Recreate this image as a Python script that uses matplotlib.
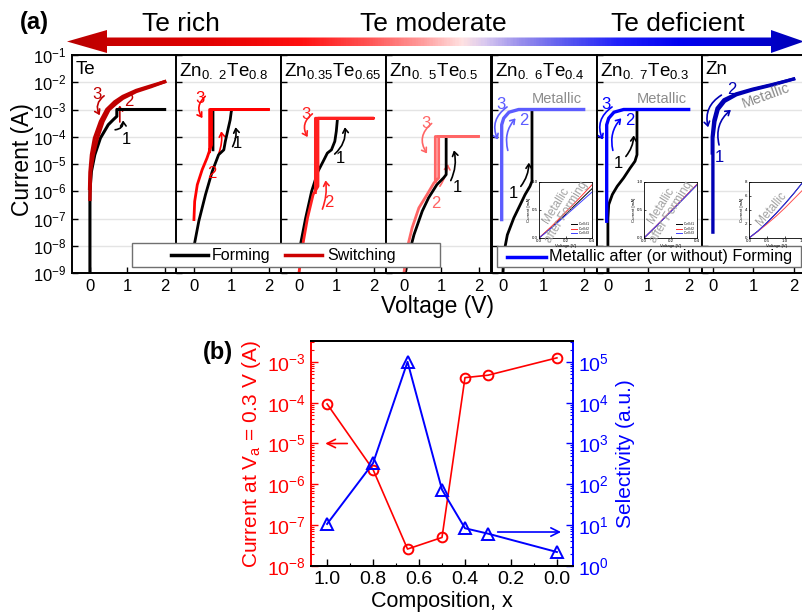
import numpy as np
import matplotlib
matplotlib.use("Agg")
import matplotlib.pyplot as plt
from matplotlib.colors import LinearSegmentedColormap
from matplotlib.patches import Polygon, Rectangle, FancyArrowPatch
from matplotlib.lines import Line2D
from matplotlib.ticker import (LogLocator, LogFormatterMathtext, NullLocator,
                               NullFormatter, MultipleLocator, FormatStrFormatter,
                               FixedLocator)

plt.rcParams['font.family'] = ['Liberation Sans', 'DejaVu Sans']
plt.rcParams['mathtext.default'] = 'regular'

# ---------------- (a) I-V sweeps: voltage (V), log10 of current (A) ----------------
te_form_v = [0.0, 0.0, 0.02, 0.04, 0.13, 0.28, 0.49, 0.62, 0.72, 0.72, 2.0]
te_form_logi = [-9.0, -6.0, -5.6, -5.27, -4.66, -4.05, -3.56, -3.38, -3.25, -3.0, -3.0]
te_set_v = [0.0, 0.02, 0.09, 0.2, 0.35, 0.51, 0.7, 0.88, 1.24, 1.64, 2.0]
te_set_logi = [-6.3, -5.27, -4.66, -4.05, -3.44, -3.01, -2.78, -2.59, -2.34, -2.16, -1.98]
te_reset_v = [2.0, 1.64, 1.24, 0.88, 0.66, 0.45, 0.28, 0.12, 0.04, 0.0, -0.01]
te_reset_logi = [-1.98, -2.13, -2.3, -2.52, -2.72, -3.0, -3.44, -4.05, -4.66, -5.3, -5.9]

z2_form_v = [0.02, 0.13, 0.31, 0.49, 0.66, 0.80, 0.84, 0.91, 0.97, 1.0, 1.02, 0.51, 0.51]
z2_form_logi = [-7.89, -7.1, -6.12, -5.27, -4.66, -4.48, -4.17, -3.74, -3.38, -3.07, -3.0, -3.0, -4.48]
z2_sw_v = [0.0, 0.02, 0.09, 0.22, 0.35, 0.47, 0.47, 2.0, 0.42, 0.42]
z2_sw_logi = [-7.04, -6.37, -5.76, -5.21, -4.78, -4.3, -3.0, -3.0, -3.0, -4.55]

z35_form_v = [0.05, 0.18, 0.34, 0.51, 0.65, 0.76, 0.87, 0.96, 1.0, 1.03]
z35_form_logi = [-7.89, -6.98, -6.0, -5.27, -4.9, -4.6, -4.48, -4.17, -3.8, -3.35]
z35_sw_v = [0.0, 0.12, 0.23, 0.38, 0.51, 0.51, 2.0, 0.44, 0.44]
z35_sw_logi = [-9.0, -7.83, -6.98, -6.12, -5.82, -3.32, -3.32, -3.32, -6.05]

z5_form_v = [0.04, 0.13, 0.27, 0.49, 0.66, 0.88, 1.06, 1.13, 1.13]
z5_form_logi = [-9.0, -8.32, -7.59, -6.73, -6.24, -5.76, -5.51, -5.39, -4.05]
z5_sw_v = [0.0, 0.09, 0.22, 0.40, 0.62, 0.80, 0.93, 0.93, 2.0, 0.84, 0.84]
z5_sw_logi = [-9.0, -8.07, -7.34, -6.61, -6.12, -5.7, -5.51, -3.99, -3.99, -3.99, -5.65]

z6_form_v = [0.0, 0.02, 0.11, 0.27, 0.43, 0.55, 0.67, 0.72, 0.72]
z6_form_logi = [-9.0, -8.3, -7.6, -6.98, -6.49, -6.12, -5.82, -5.63, -3.02]
z6_met_v = [-0.03, -0.03, 0.02, 0.15, 0.39, 2.0]
z6_met_logi = [-7.04, -3.56, -3.32, -3.1, -3.0, -3.0]

z7_form_v = [0.0, 0.0, 0.02, 0.11, 0.23, 0.39, 0.55, 0.67, 0.72, 0.72]
z7_form_logi = [-9.0, -7.0, -6.49, -6.12, -5.82, -5.51, -5.15, -4.9, -4.66, -3.02]
z7_met_v = [-0.03, -0.03, 0.02, 0.15, 0.39, 2.0]
z7_met_logi = [-7.1, -3.56, -3.32, -3.1, -3.0, -3.0]

zn_met_v = [0.0, 0.0, 0.05, 0.13, 0.29, 0.58, 0.98, 1.47, 2.0]
zn_met_logi = [-7.5, -4.05, -3.44, -3.0, -2.7, -2.46, -2.28, -2.1, -1.88]
zn_back_v = [2.0, 1.47, 0.98, 0.58, 0.27, 0.1, 0.02, -0.02, -0.02]
zn_back_logi = [-1.88, -2.08, -2.25, -2.42, -2.64, -2.95, -3.4, -4.0, -4.6]

# linear I-V insets (voltage in V, current in mA)
ins_v = [0.0, 0.1, 0.2, 0.3, 0.4]
z6_cell1 = [0.0, 0.2, 0.42, 0.65, 0.88]
z6_cell2 = [0.0, 0.22, 0.46, 0.70, 0.95]
z6_cell3 = [0.0, 0.19, 0.40, 0.61, 0.82]
z7_cell1 = [0.0, 0.23, 0.47, 0.71, 0.95]
z7_cell2 = [0.0, 0.235, 0.475, 0.715, 0.96]
z7_cell3 = [0.0, 0.23, 0.465, 0.705, 0.95]
zn_ins_v = [0.0, 0.25, 0.5, 0.75, 1.0, 1.25, 1.5]
zn_cell1 = [0.0, 1.0, 2.2, 3.5, 4.9, 6.4, 8.0]
zn_cell2 = [0.0, 0.95, 2.0, 3.1, 4.3, 5.6, 6.9]

# ---------------- (b) composition dependence ----------------
comp_x = [1.0, 0.8, 0.65, 0.5, 0.4, 0.3, 0.0]
current_03V = [9.3e-5, 2.3e-6, 2.6e-8, 5.0e-8, 4.1e-4, 4.7e-4, 1.25e-3]
selectivity = [10.7, 330, 1.0e5, 74, 8.4, 6.2, 2.2]

panel_titles = ["Te", r"Zn$_{0.\ 2}$Te$_{0.8}$", r"Zn$_{0.35}$Te$_{0.65}$",
                r"Zn$_{0.\ 5}$Te$_{0.5}$", r"Zn$_{0.\ 6}$Te$_{0.4}$",
                r"Zn$_{0.\ 7}$Te$_{0.3}$", "Zn"]

W, H = 802, 614
fig = plt.figure(figsize=(W / 100, H / 100), dpi=100)


def box(x0, y0, x1, y1):
    return [x0 / W, 1 - y1 / H, (x1 - x0) / W, (y1 - y0) / H]


C_TE, C_Z2, C_Z35, C_Z5 = '#c00000', '#ff0000', '#ff2020', '#ff6666'
C_Z6, C_Z7, C_ZN = '#5c5cff', '#0000ff', '#0000b4'
GREY = '#8c8c8c'

panels = [
    dict(xlim=(-0.48, 2.33),
         curves=[(te_form_v, te_form_logi, 'k', 2.2),
                 (te_reset_v, te_reset_logi, C_TE, 2.4),
                 (te_set_v, te_set_logi, C_TE, 2.4)],
         notes=[("3", 0.2, -2.45, C_TE), ("2", 1.04, -2.7, C_TE), ("1", 0.97, -4.1, 'k')],
         arrows=[((0.44, -2.44), (0.3, -3.3), C_TE, 0.5),
                 ((0.8, -3.56), (0.8, -2.75), C_TE, 0.0),
                 ((0.6, -3.75), (0.88, -3.3), 'k', 0.6)]),
    dict(xlim=(-0.48, 2.33),
         curves=[(z2_form_v, z2_form_logi, 'k', 2.0),
                 (z2_sw_v, z2_sw_logi, C_Z2, 2.0)],
         notes=[("3", 0.17, -2.6, C_Z2), ("2", 0.47, -5.35, C_Z2), ("1", 1.16, -4.25, 'k')],
         arrows=[((0.36, -2.45), (0.27, -3.4), C_Z2, 0.5),
                 ((0.64, -4.7), (0.72, -3.7), C_Z2, 0.15),
                 ((1.0, -4.45), (1.1, -3.55), 'k', 0.2)]),
    dict(xlim=(-0.48, 2.33),
         curves=[(z35_form_v, z35_form_logi, 'k', 2.0),
                 (z35_sw_v, z35_sw_logi, C_Z35, 2.0)],
         notes=[("3", 0.2, -3.2, C_Z35), ("2", 0.8, -6.43, C_Z35), ("1", 1.12, -4.8, 'k')],
         arrows=[((0.42, -3.1), (0.27, -4.1), C_Z35, 0.5),
                 ((0.6, -6.75), (0.7, -5.5), C_Z35, 0.15),
                 ((0.9, -4.7), (1.22, -3.55), 'k', 0.3)]),
    dict(xlim=(-0.48, 2.33),
         curves=[(z5_form_v, z5_form_logi, 'k', 2.0),
                 (z5_sw_v, z5_sw_logi, C_Z5, 2.0)],
         notes=[("3", 0.59, -3.5, C_Z5), ("2", 0.84, -6.45, C_Z5), ("1", 1.42, -5.85, 'k')],
         arrows=[((0.8, -3.45), (0.66, -4.7), C_Z5, 0.5),
                 ((0.92, -5.9), (1.18, -4.9), C_Z5, 0.15),
                 ((1.22, -5.7), (1.32, -4.4), 'k', 0.2)]),
    dict(xlim=(-0.27, 2.33),
         curves=[(z6_form_v, z6_form_logi, 'k', 2.0),
                 (z6_met_v, z6_met_logi, C_Z6, 2.4)],
         notes=[("3", -0.06, -2.83, C_Z6), ("2", 0.52, -3.4, C_Z6), ("1", 0.27, -6.1, 'k')],
         arrows=[((0.16, -2.85), (-0.1, -4.2), C_Z6, 0.45),
                 ((0.14, -4.6), (0.36, -3.25), C_Z6, -0.3),
                 ((0.4, -5.9), (0.64, -4.85), 'k', 0.2)]),
    dict(xlim=(-0.27, 2.33),
         curves=[(z7_form_v, z7_form_logi, 'k', 2.0),
                 (z7_met_v, z7_met_logi, C_Z7, 2.4)],
         notes=[("3", -0.06, -2.83, C_Z7), ("2", 0.55, -3.4, C_Z7), ("1", 0.27, -5.0, 'k')],
         arrows=[((0.16, -2.85), (-0.1, -4.2), C_Z7, 0.45),
                 ((0.14, -4.6), (0.38, -3.25), C_Z7, -0.3),
                 ((0.4, -4.8), (0.64, -3.85), 'k', 0.2)]),
    dict(xlim=(-0.27, 2.33),
         curves=[(zn_back_v, zn_back_logi, C_ZN, 2.2),
                 (zn_met_v, zn_met_logi, C_ZN, 2.4)],
         notes=[("2", 0.46, -2.28, C_ZN), ("1", 0.17, -4.75, C_ZN)],
         arrows=[((0.27, -2.42), (-0.1, -3.75), C_ZN, 0.4),
                 ((0.17, -4.4), (0.5, -2.95), C_ZN, -0.35)]),
]

panel_left = [72, 176, 281, 386, 492, 597, 702]
axes_a = []
for i, (left, p) in enumerate(zip(panel_left, panels)):
    ax = fig.add_axes(box(left, 55, left + 105, 273))
    axes_a.append(ax)
    ax.set_yscale('log')
    ax.set_ylim(1e-9, 1e-1)
    ax.set_xlim(*p['xlim'])
    ax.yaxis.set_major_locator(LogLocator(base=10, numticks=20))
    ax.yaxis.set_minor_locator(NullLocator())
    ax.xaxis.set_major_locator(FixedLocator([0, 1, 2]))
    ax.yaxis.grid(True, color='#e4e4e4', lw=1.0)
    ax.set_axisbelow(True)
    ax.tick_params(direction='in', length=4, width=1.0, labelsize=12, pad=4)
    for s in ax.spines.values():
        s.set_linewidth(1.4)
    if i == 0:
        ax.yaxis.set_major_formatter(LogFormatterMathtext())
    else:
        ax.yaxis.set_major_formatter(NullFormatter())
    for v, li, c, lw in p['curves']:
        ax.plot(v, 10.0 ** np.asarray(li), color=c, lw=lw, solid_joinstyle='round')
    for s, x, y, c in p['notes']:
        ax.text(x, 10.0 ** y, s, color=c, fontsize=12, ha='center', va='center')
    for a, b, c, rad in p['arrows']:
        ax.add_patch(FancyArrowPatch((a[0], 10.0 ** a[1]), (b[0], 10.0 ** b[1]),
                                     arrowstyle='->,head_length=3,head_width=2',
                                     connectionstyle=f'arc3,rad={rad}', color=c, lw=1.2))
    ax.text(0.03, 0.972, panel_titles[i], transform=ax.transAxes, ha='left', va='top',
            fontsize=13.5)

for ax in axes_a[4:6]:
    ax.text(1.33, 10 ** -2.6, "Metallic", color=GREY, fontsize=10.5, ha='center', va='center')
axes_a[6].text(1.31, 10 ** -2.5, "Metallic", color=GREY, fontsize=10.5, ha='center',
               va='center', rotation=20)


def inset(x0, x1, v, cells, colors, xlim, ylim, xt, yt, note, rot, legend):
    ia = fig.add_axes(box(x0, 182, x1, 238), zorder=6)
    for y, c in zip(cells, colors):
        ia.plot(v, y, color=c, lw=0.7)
    ia.set_xlim(*xlim)
    ia.set_ylim(*ylim)
    ia.set_xticks(xt)
    ia.set_yticks(yt)
    ia.xaxis.set_major_formatter(FormatStrFormatter('%.1f'))
    ia.tick_params(direction='in', length=1.5, width=0.5, labelsize=3.2, pad=1)
    for s in ia.spines.values():
        s.set_linewidth(0.6)
    ia.set_xlabel('Voltage [V]', fontsize=3.2, labelpad=0.5)
    ia.set_ylabel('Current [mA]', fontsize=3.2, labelpad=0.5)
    ia.text(0.42, 0.52, note, transform=ia.transAxes, rotation=rot, color='#a0a0a0',
            fontsize=8.5, ha='center', va='center', linespacing=0.95)
    if legend:
        ia.legend(['Cell #1', 'Cell #2', 'Cell #3'], loc='lower right', fontsize=2.3,
                  frameon=False, handlelength=2, borderpad=0.3, labelspacing=0.2)


inset(539, 592, ins_v, [z6_cell1, z6_cell2, z6_cell3], ['k', '#ff3030', '#4040ff'],
      (0, 0.4), (0, 1.0), [0, 0.2, 0.4], [0, 0.5, 1.0], "Metallic\nafter Forming", 58, True)
inset(644, 697, ins_v, [z7_cell1, z7_cell2, z7_cell3], ['k', '#ff3030', '#4040ff'],
      (0, 0.4), (0, 1.0), [0, 0.2, 0.4], [0, 0.5, 1.0], "Metallic\nafter Forming", 58, True)
inset(749, 803, zn_ins_v, [zn_cell1, zn_cell2, zn_cell1], ['k', '#ff5050', '#3030ff'],
      (0, 1.5), (0, 8), [0, 0.5, 1.0, 1.5], [0, 2, 4, 6, 8], "Metallic", 50, False)

fig.text(22 / W, 1 - 160 / H, 'Current (A)', rotation=90, fontsize=16.5, ha='center', va='center')
fig.text(438 / W, 1 - 306 / H, 'Voltage (V)', fontsize=16.5, ha='center', va='center')

# ---------------- overlay: gradient arrow, captions, shared legends ----------------
ov = fig.add_axes([0, 0, 1, 1], zorder=5)
ov.set_xlim(0, W)
ov.set_ylim(H, 0)
ov.axis('off')

grad_cmap = LinearSegmentedColormap.from_list('te_zn', [
    (0.0, '#b80000'), (0.054, '#c80000'), (0.18, '#e00000'), (0.317, '#ff1010'),
    (0.41, '#ff5555'), (0.48, '#ff9a9a'), (0.537, '#ffe2e2'), (0.568, '#d8c8f0'),
    (0.615, '#9a90ec'), (0.683, '#5555f0'), (0.75, '#2020fa'), (0.833, '#0000f0'),
    (0.957, '#0000c8'), (1.0, '#0000b8')])
arrow_pts = [(67, 41.5), (107, 30), (107, 37.5), (771, 37.5), (771, 30), (804, 41.5),
             (771, 53), (771, 46), (107, 46), (107, 53)]
clip = Polygon(arrow_pts, closed=True, facecolor='none', edgecolor='none')
ov.add_patch(clip)
im = ov.imshow(np.linspace(0, 1, 600)[None, :], extent=(67, 804, 53, 30), cmap=grad_cmap,
               aspect='auto', interpolation='bilinear')
im.set_clip_path(clip)
ov.set_xlim(0, W)
ov.set_ylim(H, 0)

ov.text(181, 24, 'Te rich', fontsize=19, ha='center', va='center')
ov.text(433, 24, 'Te moderate', fontsize=19, ha='center', va='center')
ov.text(678, 24, 'Te deficient', fontsize=19, ha='center', va='center')
ov.text(34, 22, '(a)', fontsize=17, fontweight='bold', ha='center', va='center')
ov.text(218, 352, '(b)', fontsize=17, fontweight='bold', ha='center', va='center')

ov.add_patch(Rectangle((132, 243), 308, 24, facecolor='white', edgecolor='#707070', lw=1.0))
ov.add_line(Line2D([171, 208], [255, 255], color='k', lw=2.5))
ov.text(212, 255.5, 'Forming', fontsize=11.5, va='center', ha='left')
ov.add_line(Line2D([285, 322], [255, 255], color='#cc0000', lw=2.5))
ov.text(327, 255.5, 'Switching', fontsize=11.5, va='center', ha='left')

ov.add_patch(Rectangle((497, 246), 304, 21, facecolor='white', edgecolor='#707070', lw=1.0))
ov.add_line(Line2D([507, 546], [256.5, 256.5], color='#0000ff', lw=2.5))
ov.text(549, 257, 'Metallic after (or without) Forming', fontsize=11.7, va='center', ha='left')

# ---------------- (b) ----------------
axb = fig.add_axes(box(311, 341, 573, 566))
axb2 = axb.twinx()
axb.plot(comp_x, current_03V, 'o-', color='red', mfc='none', ms=7, mew=1.4, lw=1.2)
axb2.plot(comp_x, selectivity, '^-', color='blue', mfc='none', ms=8, mew=1.4, lw=1.4)
axb.set_xlim(1.07, -0.07)
axb.set_yscale('log')
axb2.set_yscale('log')
axb.set_ylim(1e-8, 10 ** -2.49)
axb2.set_ylim(1, 10 ** 5.51)
axb.xaxis.set_major_locator(MultipleLocator(0.2))
axb.xaxis.set_minor_locator(MultipleLocator(0.1))
axb.xaxis.set_major_formatter(FormatStrFormatter('%.1f'))
for a, c in ((axb, 'red'), (axb2, 'blue')):
    a.yaxis.set_major_locator(LogLocator(base=10, numticks=20))
    a.yaxis.set_minor_locator(LogLocator(base=10, subs=np.arange(2, 10), numticks=20))
    a.yaxis.set_minor_formatter(NullFormatter())
    a.yaxis.set_major_formatter(LogFormatterMathtext())
    a.tick_params(axis='y', which='major', direction='in', length=5, width=1.0,
                  colors=c, labelsize=14)
    a.tick_params(axis='y', which='minor', direction='in', length=2.5, width=0.8, colors=c)
axb.tick_params(axis='x', which='major', direction='in', length=5, width=1.0, labelsize=14)
axb.tick_params(axis='x', which='minor', direction='in', length=2.5, width=0.8)
for a in (axb, axb2):
    for s in a.spines.values():
        s.set_linewidth(1.4)
axb.spines['left'].set_color('red')
axb2.spines['left'].set_visible(False)
axb.spines['right'].set_visible(False)
axb2.spines['right'].set_color('blue')
axb.set_ylabel('Current at V$_a$ = 0.3 V (A)', color='red', fontsize=15, labelpad=3)
axb2.set_ylabel('Selectivity (a.u.)', color='blue', fontsize=15, labelpad=5)
axb.set_xlabel('Composition, x', fontsize=15.5, labelpad=2)
axb.annotate('', xy=(1.02, 1e-5), xytext=(0.9, 1e-5),
             arrowprops=dict(arrowstyle='->,head_length=0.6,head_width=0.3', color='red', lw=1.2))
axb2.annotate('', xy=(-0.03, 6.8), xytext=(0.27, 6.8),
              arrowprops=dict(arrowstyle='->,head_length=0.6,head_width=0.3', color='blue', lw=1.2))

fig.savefig('out.png', dpi=100)
